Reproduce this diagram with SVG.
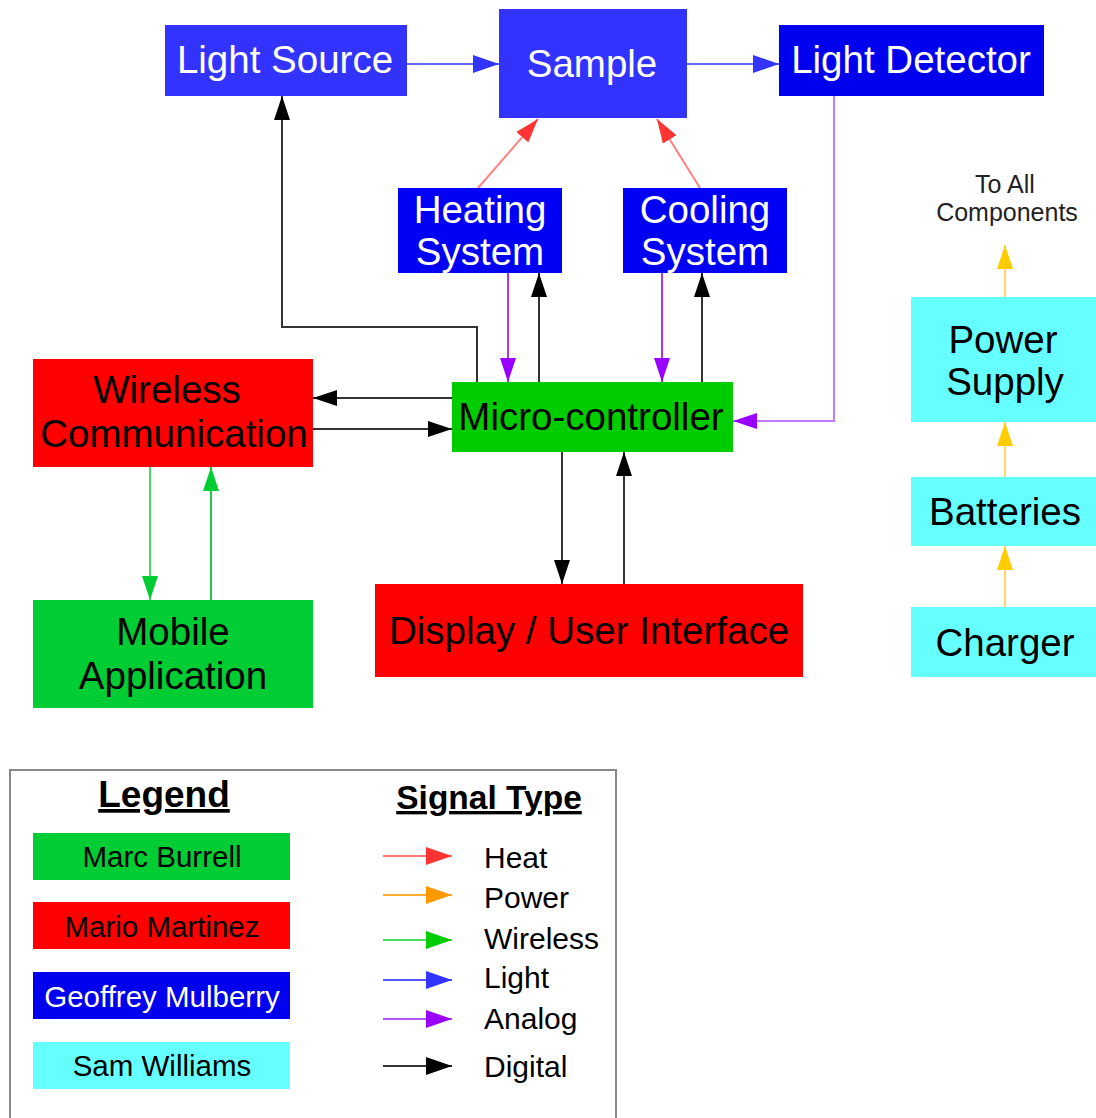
<svg xmlns="http://www.w3.org/2000/svg" width="1096" height="1118" viewBox="0 0 1096 1118">
<style>
text{font-family:"Liberation Sans",Arial,sans-serif;text-anchor:middle}
.big{font-size:38.5px}
.w{fill:#ffffff}
.k{fill:#000000}
.lg{font-size:29.5px}
.sig{font-size:30px;text-anchor:start}
.c{fill:none;stroke-width:2}
</style>
<defs>
<marker id="aBlack" markerUnits="userSpaceOnUse" markerWidth="24" markerHeight="16" refX="24" refY="8" orient="auto"><path d="M0,0 L24,8 L0,16 z" fill="#000"/></marker>
<marker id="aBlue" markerUnits="userSpaceOnUse" markerWidth="26" markerHeight="18" refX="26" refY="9" orient="auto"><path d="M0,0 L26,9 L0,18 z" fill="#3333ff"/></marker>
<marker id="aRed" markerUnits="userSpaceOnUse" markerWidth="24" markerHeight="16" refX="24" refY="8" orient="auto"><path d="M0,0 L24,8 L0,16 z" fill="#ff3333"/></marker>
<marker id="aPurple" markerUnits="userSpaceOnUse" markerWidth="24" markerHeight="16" refX="24" refY="8" orient="auto"><path d="M0,0 L24,8 L0,16 z" fill="#9900ff"/></marker>
<marker id="aGreen" markerUnits="userSpaceOnUse" markerWidth="24" markerHeight="16" refX="24" refY="8" orient="auto"><path d="M0,0 L24,8 L0,16 z" fill="#00cc33"/></marker>
<marker id="aYellow" markerUnits="userSpaceOnUse" markerWidth="24" markerHeight="16" refX="24" refY="8" orient="auto"><path d="M0,0 L24,8 L0,16 z" fill="#ffcc00"/></marker>
<marker id="aOrange" markerUnits="userSpaceOnUse" markerWidth="26" markerHeight="18" refX="26" refY="9" orient="auto"><path d="M0,0 L26,9 L0,18 z" fill="#ff9900"/></marker>
<marker id="lRed" markerUnits="userSpaceOnUse" markerWidth="26" markerHeight="18" refX="26" refY="9" orient="auto"><path d="M0,0 L26,9 L0,18 z" fill="#ff3333"/></marker>
<marker id="lGreen" markerUnits="userSpaceOnUse" markerWidth="26" markerHeight="18" refX="26" refY="9" orient="auto"><path d="M0,0 L26,9 L0,18 z" fill="#00cc00"/></marker>
<marker id="lBlue" markerUnits="userSpaceOnUse" markerWidth="26" markerHeight="18" refX="26" refY="9" orient="auto"><path d="M0,0 L26,9 L0,18 z" fill="#3333ff"/></marker>
<marker id="lPurple" markerUnits="userSpaceOnUse" markerWidth="26" markerHeight="18" refX="26" refY="9" orient="auto"><path d="M0,0 L26,9 L0,18 z" fill="#9900ff"/></marker>
<marker id="lBlack" markerUnits="userSpaceOnUse" markerWidth="26" markerHeight="18" refX="26" refY="9" orient="auto"><path d="M0,0 L26,9 L0,18 z" fill="#000"/></marker>
</defs>
<rect width="1096" height="1118" fill="#ffffff"/>

<g id="connectors">
<line class="c" x1="407" y1="64" x2="499" y2="64" stroke="#6666ff" marker-end="url(#aBlue)"/>
<line class="c" x1="687" y1="64" x2="779" y2="64" stroke="#6666ff" marker-end="url(#aBlue)"/>
<line class="c" x1="478" y1="188" x2="538" y2="119" stroke="#ff8080" marker-end="url(#aRed)"/>
<line class="c" x1="700" y1="188" x2="657" y2="119" stroke="#ff8080" marker-end="url(#aRed)"/>
<line class="c" x1="508" y1="273" x2="508" y2="382" stroke="#aa33ff" marker-end="url(#aPurple)"/>
<line class="c" x1="539" y1="382" x2="539" y2="273" stroke="#333" marker-end="url(#aBlack)"/>
<line class="c" x1="662" y1="273" x2="662" y2="382" stroke="#aa33ff" marker-end="url(#aPurple)"/>
<line class="c" x1="702" y1="382" x2="702" y2="273" stroke="#333" marker-end="url(#aBlack)"/>
<polyline class="c" points="477,382 477,327 282,327 282,96" stroke="#333" marker-end="url(#aBlack)"/>
<line class="c" x1="452" y1="398" x2="313" y2="398" stroke="#333" marker-end="url(#aBlack)"/>
<line class="c" x1="313" y1="429" x2="452" y2="429" stroke="#333" marker-end="url(#aBlack)"/>
<polyline class="c" points="834,96 834,421 733,421" stroke="#c27aff" marker-end="url(#aPurple)"/>
<line class="c" x1="150" y1="467" x2="150" y2="600" stroke="#44dd66" marker-end="url(#aGreen)"/>
<line class="c" x1="211" y1="600" x2="211" y2="467" stroke="#22cc44" marker-end="url(#aGreen)"/>
<line class="c" x1="562" y1="452" x2="562" y2="584" stroke="#333" marker-end="url(#aBlack)"/>
<line class="c" x1="624" y1="584" x2="624" y2="452" stroke="#333" marker-end="url(#aBlack)"/>
<line class="c" x1="1005" y1="297" x2="1005" y2="245" stroke="#ffd966" marker-end="url(#aYellow)"/>
<line class="c" x1="1005" y1="477" x2="1005" y2="422" stroke="#ffd966" marker-end="url(#aYellow)"/>
<line class="c" x1="1005" y1="607" x2="1005" y2="546" stroke="#ffd966" marker-end="url(#aYellow)"/>
</g>

<g id="light-source"><rect x="165" y="25" width="242" height="71" fill="#3333ff"/><text class="big w" x="285" y="73">Light Source</text></g>
<g id="sample"><rect x="499" y="9" width="188" height="109" fill="#3333ff"/><text class="big w" x="592" y="77">Sample</text></g>
<g id="light-detector"><rect x="779" y="25" width="265" height="71" fill="#0000ee"/><text class="big w" x="911" y="73">Light Detector</text></g>
<g id="heating"><rect x="398" y="188" width="164" height="85" fill="#0000f5"/><text class="big w" x="480" y="223">Heating</text><text class="big w" x="480" y="265">System</text></g>
<g id="cooling"><rect x="623" y="188" width="164" height="85" fill="#0000f5"/><text class="big w" x="705" y="223">Cooling</text><text class="big w" x="705" y="265">System</text></g>
<g id="micro"><rect x="452" y="382" width="281" height="70" fill="#00cc00"/><text class="big k" x="591" y="430">Micro-controller</text></g>
<g id="wireless"><rect x="33" y="359" width="280" height="108" fill="#ff0000"/><text class="big k" x="167" y="403">Wireless</text><text class="big k" x="174" y="447">Communication</text></g>
<g id="mobile"><rect x="33" y="600" width="280" height="108" fill="#00cc33"/><text class="big k" x="173" y="645">Mobile</text><text class="big k" x="173" y="689">Application</text></g>
<g id="display"><rect x="375" y="584" width="428" height="93" fill="#ff0000"/><text class="big k" x="589" y="644">Display / User Interface</text></g>
<g id="to-all"><text x="1005" y="193" font-size="25" fill="#222">To All</text><text x="1007" y="221" font-size="25" fill="#222">Components</text></g>
<g id="power"><rect x="911" y="297" width="185" height="125" fill="#66ffff"/><text class="big k" x="1003" y="353">Power</text><text class="big k" x="1005" y="395">Supply</text></g>
<g id="batteries"><rect x="911" y="477" width="185" height="69" fill="#66ffff"/><text class="big k" x="1005" y="525">Batteries</text></g>
<g id="charger"><rect x="911" y="607" width="185" height="70" fill="#66ffff"/><text class="big k" x="1005" y="656">Charger</text></g>

<g id="legend">
<rect x="10" y="770" width="606" height="360" fill="#ffffff" stroke="#888" stroke-width="2"/>
<text x="164" y="807" font-size="37" font-weight="bold" text-decoration="underline">Legend</text>
<text x="489" y="809" font-size="33.5" font-weight="bold" text-decoration="underline">Signal Type</text>
<rect x="33" y="833" width="257" height="47" fill="#00cc33"/><text class="lg k" x="162" y="867">Marc Burrell</text>
<rect x="33" y="902" width="257" height="47" fill="#ff0000"/><text class="lg k" x="162" y="937">Mario Martinez</text>
<rect x="33" y="972" width="257" height="47" fill="#0000ee"/><text class="lg w" x="162" y="1007">Geoffrey Mulberry</text>
<rect x="33" y="1042" width="257" height="47" fill="#66ffff"/><text class="lg k" x="162" y="1076">Sam Williams</text>
<line class="c" x1="383" y1="856" x2="452" y2="856" stroke="#ff7777" marker-end="url(#lRed)"/>
<line class="c" x1="383" y1="895" x2="452" y2="895" stroke="#ffaa33" marker-end="url(#aOrange)"/>
<line class="c" x1="383" y1="940" x2="452" y2="940" stroke="#44dd66" marker-end="url(#lGreen)"/>
<line class="c" x1="383" y1="980" x2="452" y2="980" stroke="#5555ff" marker-end="url(#lBlue)"/>
<line class="c" x1="383" y1="1019" x2="452" y2="1019" stroke="#b055ff" marker-end="url(#lPurple)"/>
<line class="c" x1="383" y1="1066" x2="452" y2="1066" stroke="#333" marker-end="url(#lBlack)"/>
<text class="sig k" x="484" y="868">Heat</text>
<text class="sig k" x="484" y="908">Power</text>
<text class="sig k" x="484" y="949">Wireless</text>
<text class="sig k" x="484" y="988">Light</text>
<text class="sig k" x="484" y="1029">Analog</text>
<text class="sig k" x="484" y="1077">Digital</text>
</g>
</svg>
